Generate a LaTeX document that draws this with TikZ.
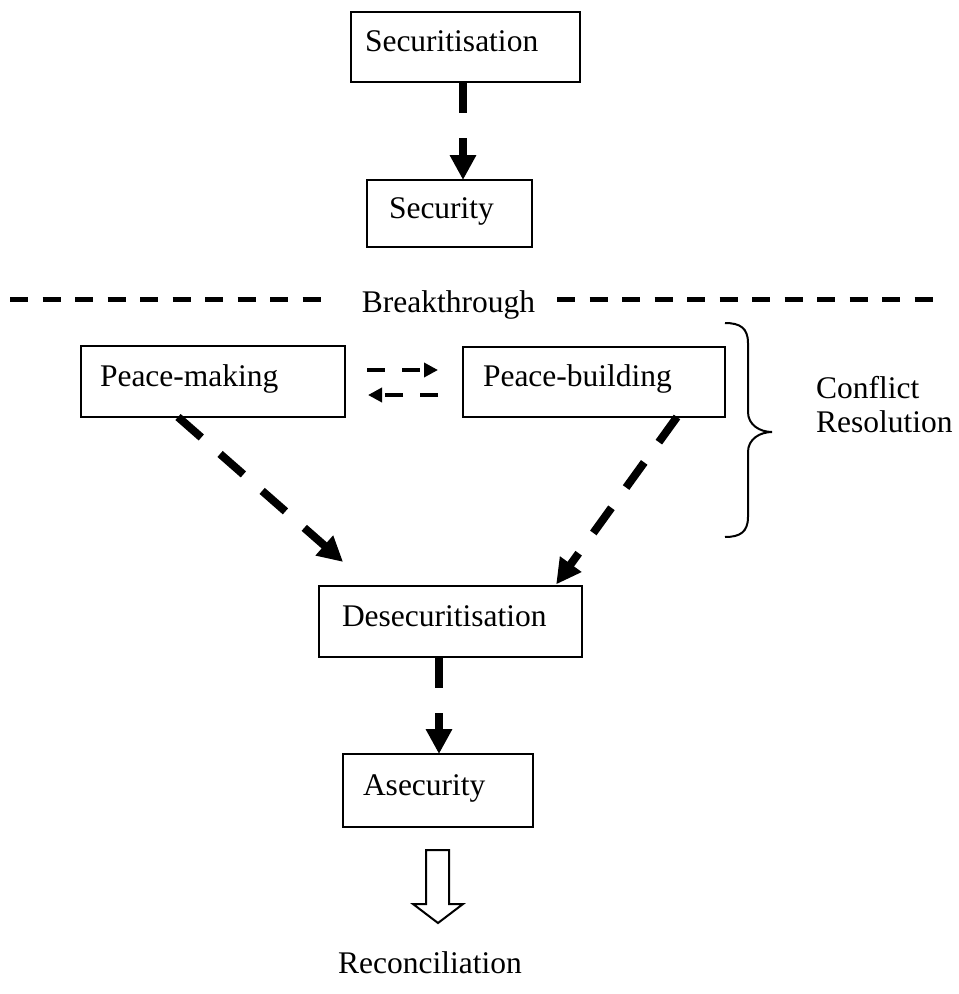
\documentclass[tikz,border=0pt]{standalone}
\usepackage{fontspec}
\setmainfont{Liberation Serif}
\usetikzlibrary{arrows.meta}
\begin{document}
\begin{tikzpicture}[x=1pt,y=-1pt,
  box/.style={draw, line width=2pt, rectangle, inner ysep=0pt, outer sep=0pt, align=left,
    text height=21pt, text depth=12pt, font=\fontsize{31.5}{34}\selectfont, anchor=north west},
  lbl/.style={inner sep=0pt, font=\fontsize{31.5}{34}\selectfont},
  bigarrow/.style={line width=8pt, dash pattern=on 31pt off 25pt, -{Triangle[length=25pt,width=25pt]}},
  smallarrow/.style={line width=4pt, dash pattern=on 18pt off 17pt, -{Triangle[length=14pt,width=14pt]}},
  divider/.style={line width=5pt, dash pattern=on 18pt off 14.5pt},
  bracestyle/.style={line width=2pt},
  hollow/.style={line width=2pt, line join=miter}]
\useasboundingbox (0,0) rectangle (959,994);

% boxes
\node[box, minimum width=229pt, minimum height=70pt, text width=201pt, inner xsep=14pt] (sec) at (351,12) {Securitisation};
\node[box, minimum width=165pt, minimum height=67pt, text width=121pt, inner xsep=22pt] (secy) at (367,180) {Security};
\node[box, minimum width=264pt, minimum height=71pt, text width=226pt, inner xsep=19pt] (pm) at (81,346) {Peace-making};
\node[box, minimum width=262pt, minimum height=70pt, text width=222pt, inner xsep=20pt] (pb) at (463,347) {Peace-building};
\node[box, minimum width=263pt, minimum height=71pt, text width=217pt, inner xsep=23pt] (des) at (319,586) {Desecuritisation};
\node[box, minimum width=190pt, minimum height=73pt, text width=150pt, inner xsep=20pt] (asec) at (343,754) {Asecurity};

% labels
\node[lbl, anchor=base] (brk) at (448.5,312) {Breakthrough};
\node[lbl, align=left, anchor=north west] (cr) at (816,376.5) {Conflict\\Resolution};
\node[lbl, anchor=base west] (rec) at (338,973) {Reconciliation};

% breakthrough divider
\draw[divider] (10,299) -- (320.5,299);
\draw[divider] (557,299) -- (933,299);

% arrows
\draw[bigarrow] (463,0 |- sec.south) -- (463,0 |- secy.north);
\draw[bigarrow, shorten >=36.5pt] (178,0 |- pm.south) -- (370.5,0 |- des.north);
\draw[bigarrow, shorten >=2pt] (677,0 |- pb.south) -- (555,0 |- des.north);
\draw[bigarrow] (439,0 |- des.south) -- (439,0 |- asec.north);

\draw[smallarrow, shorten <=22pt, shorten >=25pt] (pm.east |- 0,370) -- (pb.west |- 0,370);
\draw[smallarrow, shorten <=25pt, shorten >=23pt] (pb.west |- 0,395) -- (pm.east |- 0,395);

% brace
\draw[bracestyle] (725,323) .. controls (740,323) and (748,328) .. (748,343)
  -- (748,412) .. controls (748,425) and (760,432) .. (772,432)
  .. controls (760,432) and (748,439) .. (748,452)
  -- (748,517) .. controls (748,532) and (740,537) .. (725,537);

% hollow arrow to reconciliation
\draw[hollow] (426,850) -- (449,850) -- (449,904) -- (463,904) -- (438,923) -- (413,904) -- (426,904) -- cycle;
\end{tikzpicture}
\end{document}
